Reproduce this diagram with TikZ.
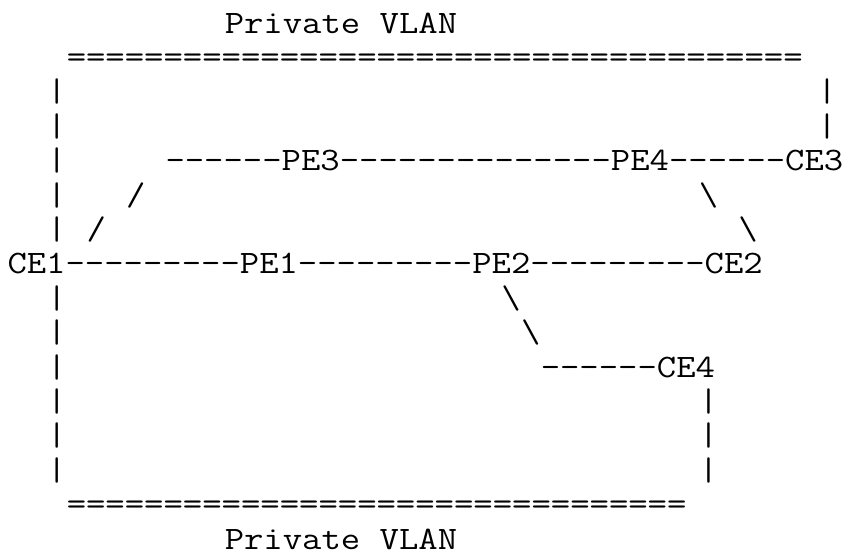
\documentclass[tikz,border=0pt]{standalone}
\usepackage{graphicx}
\tikzset{
  txt/.style={anchor=base west, inner sep=0pt, outer sep=0pt,
    font=\ttfamily\fontsize{32.7}{34.4}\selectfont}
}
% #1 name, #2 line (1..16), #3 column, #4 text
\newcommand\seg[4]{\node[txt] (#1) at ({7.5pt+#3*19.75pt},{-33pt-(#2-1)*34.4pt}) {\scalebox{1.15}[1]{#4}};}
\newcommand\bs{\textbackslash}
\begin{document}
\begin{tikzpicture}
\useasboundingbox (0,0) rectangle (853pt,-557pt);
\seg{t1}{1}{11}{Private VLAN}
\seg{t2}{2}{3}{======================================}
\seg{a3}{3}{2}{|}\seg{b3}{3}{41}{|}
\seg{a4}{4}{2}{|}\seg{b4}{4}{41}{|}
\seg{a5}{5}{2}{|}\seg{b5}{5}{8}{------PE3--------------PE4------CE3}
\seg{a6}{6}{2}{|}\seg{b6}{6}{6}{/}\seg{c6}{6}{35}{\bs}
\seg{a7}{7}{2}{|}\seg{b7}{7}{4}{/}\seg{c7}{7}{37}{\bs}
\seg{t8}{8}{0}{CE1---------PE1---------PE2---------CE2}
\seg{a9}{9}{2}{|}\seg{b9}{9}{25}{\bs}
\seg{a10}{10}{2}{|}\seg{b10}{10}{26}{\bs}
\seg{a11}{11}{2}{|}\seg{b11}{11}{27}{------CE4}
\seg{a12}{12}{2}{|}\seg{b12}{12}{35}{|}
\seg{a13}{13}{2}{|}\seg{b13}{13}{35}{|}
\seg{a14}{14}{2}{|}\seg{b14}{14}{35}{|}
\seg{t15}{15}{3}{================================}
\seg{t16}{16}{11}{Private VLAN}
\end{tikzpicture}
\end{document}
